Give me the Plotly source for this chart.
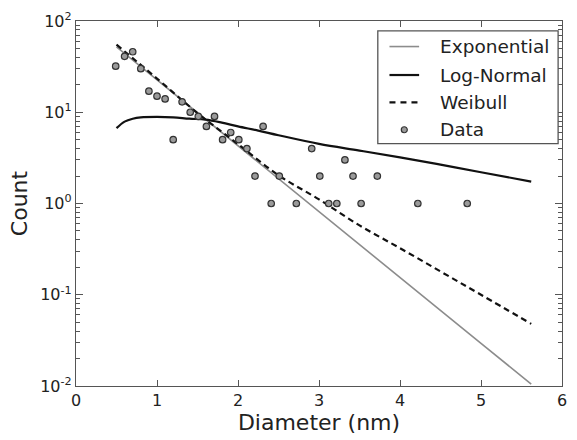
import plotly.graph_objects as go

# Data points (diameter in nm, count)
data_x = [0.49, 0.60, 0.70, 0.80, 0.90, 1.00, 1.10, 1.20, 1.31, 1.41, 1.51, 1.61, 1.71,
          1.81, 1.91, 2.01, 2.11, 2.21, 2.31, 2.41, 2.51, 2.72, 2.91, 3.01, 3.12, 3.22,
          3.32, 3.42, 3.52, 3.72, 4.22, 4.83]
data_y = [32, 41, 46, 30, 17, 15, 14, 5, 13, 10, 9, 7, 9,
          5, 6, 5, 4, 2, 7, 1, 2, 1, 4, 2, 1, 1,
          3, 2, 1, 2, 1, 1]

# Fitted curves
exp_x = [0.5, 1.0, 1.5, 2.0, 2.5, 3.0, 3.5, 4.0, 4.5, 5.0, 5.62]
exp_y = [52, 22.6, 9.9, 4.3, 1.87, 0.82, 0.355, 0.155, 0.067, 0.0293, 0.0105]

logn_x = [0.5, 0.6, 0.7, 0.8, 1.0, 1.2, 1.4, 1.6, 1.8, 2.0, 2.25, 2.5, 3.0, 3.5, 4.0, 4.5, 5.0, 5.62]
logn_y = [6.7, 7.9, 8.5, 8.8, 8.9, 8.8, 8.5, 8.3, 7.7, 7.0, 6.3, 5.6, 4.5, 3.8, 3.2, 2.67, 2.2, 1.74]

weib_x = [0.5, 1.0, 1.5, 2.0, 2.5, 3.0, 3.5, 4.0, 4.5, 5.0, 5.62]
weib_y = [55, 23.4, 9.8, 4.47, 2.04, 1.11, 0.575, 0.324, 0.18, 0.1, 0.048]

series_names = ["Exponential", "Log-Normal", "Weibull", "Data"]

x_ticks = [0, 1, 2, 3, 4, 5, 6]
y_tickvals = [0.01, 0.1, 1, 10, 100]
y_ticktext = ["10<sup>-2</sup>", "10<sup>-1</sup>", "10<sup>0</sup>", "10<sup>1</sup>", "10<sup>2</sup>"]
y_minor = [m * d for d in [0.01, 0.1, 1, 10] for m in range(2, 10)]

FONT = "DejaVu Sans"
AX = "#555555"
GRAY = "#8c8c8c"
BLACK = "#111111"

fig = go.Figure()
fig.add_trace(go.Scatter(x=exp_x, y=exp_y, mode="lines", name=series_names[0],
                         line=dict(color=GRAY, width=1.6)))
fig.add_trace(go.Scatter(x=logn_x, y=logn_y, mode="lines", name=series_names[1],
                         line=dict(color=BLACK, width=2.2, shape="spline")))
fig.add_trace(go.Scatter(x=weib_x, y=weib_y, mode="lines", name=series_names[2],
                         line=dict(color=BLACK, width=2.2, dash="6px,4px", shape="spline")))
fig.add_trace(go.Scatter(x=data_x, y=data_y, mode="markers", name=series_names[3],
                         marker=dict(symbol="circle", size=6.5, color="#9a9a9a",
                                     line=dict(color="#333333", width=1.2))))

# Legend drawn in paper coordinates (matplotlib-like box)
shapes = [dict(type="rect", xref="paper", yref="paper", x0=0.621, x1=0.992, y0=0.664, y1=0.973,
               line=dict(color=AX, width=1.3), fillcolor="white", layer="above")]
rows_y = [0.930, 0.852, 0.777, 0.702]
lx0, lx1, tx = 0.645, 0.706, 0.745
shapes.append(dict(type="line", xref="paper", yref="paper", x0=lx0, x1=lx1, y0=rows_y[0], y1=rows_y[0],
                   line=dict(color=GRAY, width=1.6), layer="above"))
shapes.append(dict(type="line", xref="paper", yref="paper", x0=lx0, x1=lx1, y0=rows_y[1], y1=rows_y[1],
                   line=dict(color=BLACK, width=2.2), layer="above"))
shapes.append(dict(type="line", xref="paper", yref="paper", x0=lx0, x1=lx1, y0=rows_y[2], y1=rows_y[2],
                   line=dict(color=BLACK, width=2.2, dash="6px,5px"), layer="above"))
mx = (lx0 + lx1) / 2
shapes.append(dict(type="circle", xref="paper", yref="paper", xsizemode="pixel", ysizemode="pixel",
                   xanchor=mx, yanchor=rows_y[3], x0=-3, x1=3, y0=-3, y1=3,
                   fillcolor="#9a9a9a", line=dict(color="#333333", width=1.2), layer="above"))
annotations = [dict(xref="paper", yref="paper", x=tx, y=yy, text=nm, showarrow=False,
                    xanchor="left", yanchor="middle",
                    font=dict(family=FONT, size=18.5, color="#222222"))
               for nm, yy in zip(series_names, rows_y)]

fig.update_layout(
    width=577, height=440,
    margin=dict(l=76, r=10, t=17, b=51),
    paper_bgcolor="white", plot_bgcolor="white",
    font=dict(family=FONT, size=16, color="#222222"),
    showlegend=False,
    shapes=shapes, annotations=annotations,
)
fig.update_xaxes(
    range=[0, 6], tickvals=x_ticks, ticktext=[str(v) for v in x_ticks],
    ticks="inside", ticklen=6, tickcolor=AX, mirror="allticks",
    showline=True, linecolor=AX, linewidth=1.3, showgrid=False, zeroline=False,
    tickfont=dict(size=16),
    title=dict(text="Diameter (nm)", font=dict(size=22), standoff=4),
)
fig.update_yaxes(
    type="log", range=[-2, 2], tickvals=y_tickvals, ticktext=y_ticktext,
    ticks="inside", ticklen=7, tickcolor=AX, mirror="allticks",
    showline=True, linecolor=AX, linewidth=1.3, showgrid=False, zeroline=False,
    tickfont=dict(size=16),
    minor=dict(tickvals=y_minor, ticks="inside", ticklen=3.5, tickcolor=AX, showgrid=False),
    title=dict(text="Count", font=dict(size=22), standoff=6),
)

fig.write_html("out.html")
